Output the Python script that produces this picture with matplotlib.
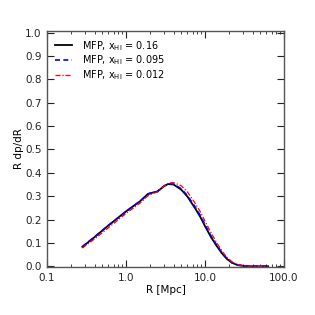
import numpy as np
import matplotlib
matplotlib.use("Agg")
import matplotlib.pyplot as plt
from matplotlib.ticker import FixedLocator, NullFormatter, LogLocator

# curves
r_black = [0.28, 0.4, 0.6, 1.0, 1.5, 1.9, 2.2, 2.5, 3.0, 3.4, 4.0, 5.0, 6.0, 7.5, 8.7, 10.0, 12.0, 14.0, 16.5, 19.0, 22.0, 26.0, 32.0, 40.0, 63.0]
p_black = [0.083, 0.125, 0.175, 0.235, 0.278, 0.31, 0.316, 0.32, 0.342, 0.352, 0.35, 0.328, 0.298, 0.248, 0.212, 0.172, 0.123, 0.088, 0.054, 0.031, 0.015, 0.005, 0.001, 0.0, 0.0]

r_blue = [0.28, 0.4, 0.6, 1.0, 1.5, 1.9, 2.2, 2.5, 3.0, 3.4, 4.0, 5.0, 6.0, 7.5, 8.7, 10.0, 12.0, 14.0, 16.5, 19.0, 22.0, 26.0, 32.0, 40.0, 63.0]
p_blue = [0.084, 0.126, 0.175, 0.234, 0.278, 0.309, 0.316, 0.32, 0.343, 0.353, 0.352, 0.332, 0.302, 0.254, 0.218, 0.178, 0.128, 0.092, 0.057, 0.033, 0.016, 0.006, 0.001, 0.0, 0.0]

r_red = [0.28, 0.4, 0.6, 1.0, 1.5, 1.9, 2.2, 2.5, 3.0, 3.5, 4.0, 5.0, 6.0, 7.5, 8.7, 10.0, 12.0, 14.0, 16.5, 19.0, 22.0, 26.0, 32.0, 40.0, 63.0]
p_red = [0.078, 0.117, 0.165, 0.226, 0.27, 0.302, 0.312, 0.318, 0.342, 0.357, 0.358, 0.345, 0.318, 0.27, 0.234, 0.193, 0.142, 0.102, 0.064, 0.038, 0.019, 0.007, 0.002, 0.0, 0.0]

labels = [r"MFP, x$_{\rm HI}$ = 0.16", r"MFP, x$_{\rm HI}$ = 0.095", r"MFP, x$_{\rm HI}$ = 0.012"]

plt.rcParams["font.family"] = "DejaVu Sans"
plt.rcParams["mathtext.fontset"] = "dejavusans"

fig = plt.figure(figsize=(3.15, 3.15), dpi=100)
ax = fig.add_axes([47 / 315, 48 / 315, 237 / 315, 236 / 315])

ax.plot(r_black, p_black, color="black", lw=1.3, label=labels[0])
ax.plot(r_blue, p_blue, color="blue", lw=1.2, ls=(0, (3, 2)), label=labels[1])
ax.plot(r_red, p_red, color="red", lw=0.9, ls=(0, (4, 1.5, 1, 1.5)), label=labels[2])

ax.set_xscale("log")
ax.set_xlim(0.1, 100)
ax.set_ylim(-0.003, 1.007)
ax.xaxis.set_major_locator(FixedLocator([0.1, 1, 10, 100]))
ax.set_xticklabels(["0.1", "1.0", "10.0", "100.0"])
ax.xaxis.set_minor_locator(LogLocator(base=10, subs=np.arange(2, 10)))
ax.xaxis.set_minor_formatter(NullFormatter())
ax.set_yticks(np.round(np.arange(0, 1.01, 0.1), 1))
ax.set_yticklabels(["%.1f" % v for v in np.arange(0, 1.01, 0.1)])

ax.tick_params(which="both", direction="in", top=True, right=True, labelsize=7.5, colors="#222222", pad=4)
ax.tick_params(which="major", length=5, width=0.8)
ax.tick_params(which="minor", length=2.5, width=0.6)
for s in ax.spines.values():
    s.set_color("#555555")
    s.set_linewidth(1.0)

ax.set_xlabel("R [Mpc]", fontsize=7.5, labelpad=2)
ax.set_ylabel("R dp/dR", fontsize=7.5, labelpad=1)

ax.legend(loc="upper left", frameon=False, fontsize=7, handlelength=1.8, handletextpad=1.0,
          labelspacing=0.08, borderaxespad=0.0, borderpad=0.0, bbox_to_anchor=(0.033, 0.967))

fig.savefig("out.png", dpi=100)
